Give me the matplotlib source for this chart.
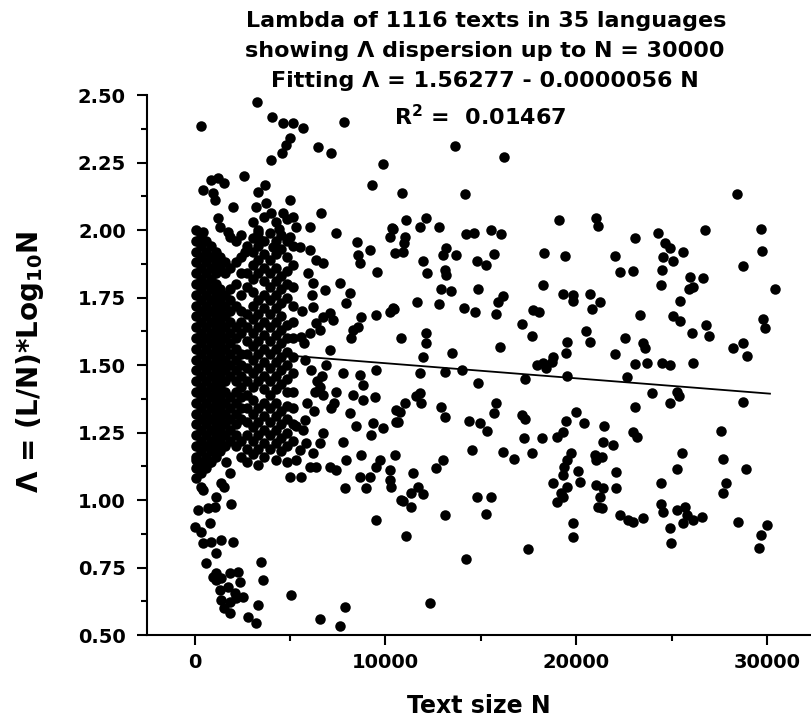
import numpy as np
import matplotlib
matplotlib.use("Agg")
import matplotlib.pyplot as plt
from matplotlib.ticker import MultipleLocator, FormatStrFormatter

plt.rcParams['font.family'] = 'DejaVu Sans'
plt.rcParams['font.weight'] = 'bold'
plt.rcParams['mathtext.default'] = 'regular'

# scattered texts: size N and lambda
text_n = [
    13670, 16220, 10890, 14180, 28400, 11100, 12150, 11800, 10330, 11010, 11000, 10900, 10490,
    12810, 19100, 21060, 21130, 14250, 14630, 15520, 16050, 23070, 24300, 26760, 29660, 29730,
    24650, 24910, 24560, 25050, 25610, 13200, 13020, 13690, 11970, 12200, 13110, 13200, 14800,
    15260, 15700, 18300, 19390, 22020, 22290, 22950, 24470, 24440, 28720, 25960, 26620, 25920,
    26130, 25430, 30410, 12940, 13460, 14860, 16170, 15900, 15780, 14680, 14110, 11680, 12800,
    10440, 18270, 19310, 19840, 19810, 20710, 21240, 20800, 17740, 18060, 17180, 17660, 23340,
    25080, 25430, 26090, 26800, 26970, 29800, 29890, 28200, 28720, 28930, 10840, 12110, 12110,
    11970, 13490, 15990, 20500, 20710, 19490, 19450, 18790, 18270, 17920, 22550, 23480, 23600,
    22020, 23070, 23720, 24470, 24910, 26130,
    11800, 13110, 13990, 14860, 17330, 19490, 18440, 18710, 22670, 23950, 25290, 25400, 24910,
    28720, 11800, 11850, 11620, 11010, 10750, 10580, 12940, 13150, 14380, 14940, 15300, 15780,
    15680, 17180, 17300, 23070, 22980, 23160, 20010, 20410, 19450, 19310, 18970, 21470, 21380,
    21940, 17270, 18230, 27570, 10500, 14540, 16170, 16740, 17660, 19750, 19490, 19350, 19310,
    19490, 19180, 18970, 19310, 18760, 20980, 21330, 21060, 20100, 20190, 22080, 22080, 21060,
    21410, 21240, 21330, 21150, 25560, 25290, 24420, 24420, 24520, 25260, 25690, 25780, 25610,
    26130, 26570, 22290, 22720, 22980, 23480, 24910, 24960, 27700, 27840, 27700, 28890, 28460,
    29980, 29660, 29590, 19840, 19840, 17490, 14250, 12320, 13110, 15260, 14800, 15560, 11100,
    11360, 11360, 10920, 11970, 11710, 11450, 12670, 13020,
    90, 260, 790, 930, 1660, 1840, 1400, 1570, 350, 440, 1140, 1050, 700, 170, 790, 1890, 50,
    350, 440, 870, 1400, 2010, 1140, 610, 3500, 3580, 5070, 7870, 7600, 6590,
    1140, 1400, 1840, 2270, 2360, 1310, 1750, 2100, 2530, 1400, 1840, 1570, 1840, 2180, 2800,
    3230, 3320, 1140, 960,
    7780, 8650, 8830, 9530, 8300, 8830, 9440, 7430, 6730, 7170, 8130, 5770, 8480, 9350, 9260,
    9880, 10580, 10660, 7780, 8740, 9700, 9530, 10230, 10230, 10310, 8650, 9180, 9000, 7870,
    9490, 10840, 4980, 5590, 5330, 6030, 6380, 7080, 7430, 7950, 5510, 5860, 6200, 6550, 6730,
    5680, 5330,
    3290, 350, 7830, 4070, 4630, 5150, 5680, 4980, 4810, 4600, 4020, 6470, 7130, 9880, 9300,
    870, 1220, 1570, 440, 960, 1050, 2590, 3670, 3320, 2010, 1220, 1310, 1750, 440, 350, 1840,
    3230, 3760, 4020, 4980, 4630, 5150, 5330, 6030, 6610, 4420, 7430, 3320, 3410, 2620, 4110,
    4980, 5510, 6030, 6380, 6730, 8510, 8570, 8650, 9180, 9560, 10400, 10230, 6200, 6820, 7600,
    8130, 7950, 6200, 6380, 6550, 7080, 7250, 6730, 8740, 9530, 10230, 10400, 8300, 8570, 8220,
    5590, 7080,
    5800, 6100, 6400, 5900, 6250, 6600, 5750, 6050, 6900, 6300, 5650, 6150, 6700, 5950, 7300,
]
text_lam = [
    2.312, 2.269, 2.138, 2.132, 2.132, 2.037, 2.046, 2.012, 2.007, 1.975, 1.952, 1.920, 1.915,
    2.012, 2.037, 2.046, 2.015, 1.985, 1.990, 2.000, 1.985, 1.971, 1.990, 2.000, 2.004, 1.922,
    1.951, 1.932, 1.901, 1.886, 1.917, 1.932, 1.907, 1.907, 1.886, 1.840, 1.852, 1.833, 1.886,
    1.870, 1.911, 1.914, 1.905, 1.905, 1.843, 1.848, 1.852, 1.796, 1.867, 1.827, 1.821, 1.781,
    1.790, 1.738, 1.780, 1.781, 1.775, 1.781, 1.756, 1.734, 1.689, 1.697, 1.710, 1.732, 1.725,
    1.707, 1.796, 1.763, 1.759, 1.738, 1.763, 1.734, 1.707, 1.704, 1.697, 1.652, 1.607, 1.685,
    1.681, 1.664, 1.620, 1.648, 1.607, 1.669, 1.636, 1.562, 1.580, 1.533, 1.599, 1.620, 1.580,
    1.531, 1.543, 1.568, 1.627, 1.586, 1.584, 1.543, 1.531, 1.506, 1.500, 1.599, 1.583, 1.562,
    1.541, 1.503, 1.506, 1.506, 1.500, 1.506,
    1.471, 1.475, 1.481, 1.434, 1.447, 1.459, 1.488, 1.512, 1.454, 1.397, 1.401, 1.385, 1.358,
    1.364, 1.397, 1.360, 1.385, 1.358, 1.327, 1.290, 1.346, 1.309, 1.293, 1.284, 1.257, 1.358,
    1.321, 1.315, 1.299, 1.346, 1.253, 1.232, 1.325, 1.286, 1.293, 1.253, 1.232, 1.273, 1.216,
    1.204, 1.228, 1.228, 1.256, 1.167, 1.185, 1.177, 1.152, 1.173, 1.175, 1.148, 1.123, 1.093,
    1.049, 1.025, 0.994, 1.012, 1.062, 1.167, 1.160, 1.148, 1.107, 1.068, 1.105, 1.043, 1.056,
    1.043, 1.012, 0.969, 0.975, 1.175, 1.114, 1.062, 0.985, 0.957, 0.963, 0.975, 0.944, 0.914,
    0.926, 0.938, 0.944, 0.926, 0.917, 0.934, 0.895, 0.840, 1.151, 1.062, 1.027, 1.115, 0.920,
    0.907, 0.870, 0.823, 0.914, 0.862, 0.817, 0.781, 0.620, 0.944, 0.948, 1.012, 1.012, 0.868,
    1.025, 0.975, 0.997, 1.022, 1.049, 1.099, 1.117, 1.148,
    1.148, 1.117, 1.142, 1.195, 1.142, 1.099, 1.062, 1.049, 1.049, 1.037, 1.010, 0.975, 0.969,
    0.963, 0.914, 0.985, 0.901, 0.883, 0.840, 0.846, 0.852, 0.846, 0.803, 0.765, 0.771, 0.704,
    0.648, 0.605, 0.533, 0.558,
    0.728, 0.710, 0.728, 0.734, 0.697, 0.667, 0.679, 0.654, 0.642, 0.630, 0.623, 0.599, 0.580,
    0.636, 0.568, 0.543, 0.611, 0.704, 0.716,
    1.469, 1.463, 1.426, 1.481, 1.389, 1.370, 1.383, 1.401, 1.389, 1.340, 1.321, 1.296, 1.273,
    1.284, 1.241, 1.265, 1.333, 1.290, 1.216, 1.167, 1.148, 1.123, 1.111, 1.074, 1.049, 1.086,
    1.086, 1.043, 1.043, 0.926, 1.000, 1.086, 1.086, 1.148, 1.123, 1.123, 1.123, 1.111, 1.148,
    1.185, 1.210, 1.173, 1.210, 1.247, 1.259, 1.273,
    2.475, 2.385, 2.401, 2.417, 2.395, 2.395, 2.377, 2.339, 2.315, 2.284, 2.259, 2.309, 2.286,
    2.244, 2.167, 2.185, 2.191, 2.173, 2.148, 2.136, 2.111, 2.200, 2.167, 2.142, 2.086, 2.043,
    2.012, 1.994, 1.994, 1.957, 1.975, 2.086, 2.099, 2.062, 2.111, 2.062, 2.049, 2.012, 2.012,
    2.062, 2.005, 1.990, 1.988, 1.963, 1.920, 1.938, 1.975, 1.938, 1.926, 1.889, 1.877, 1.957,
    1.907, 1.877, 1.926, 1.846, 2.005, 1.975, 1.802, 1.778, 1.802, 1.765, 1.728, 1.716, 1.654,
    1.630, 1.691, 1.667, 1.679, 1.679, 1.685, 1.697, 1.710, 1.630, 1.642, 1.599, 1.605, 1.556,
    1.52, 1.48, 1.44, 1.36, 1.33, 1.42, 1.58, 1.62, 1.50, 1.40, 1.70, 1.76, 1.46, 1.84, 1.36,
]

# short texts (N < 2000): dense band, one lambda list per N column
short_n = [100, 350, 600, 850, 1100, 1350, 1600, 1850]
short_lam = [
    [1.08, 1.12, 1.16, 1.20, 1.24, 1.28, 1.32, 1.36, 1.40, 1.44, 1.48, 1.52, 1.56, 1.60, 1.64,
     1.68, 1.72, 1.76, 1.80, 1.84, 1.88, 1.92, 1.96, 2.00],
    [1.10, 1.14, 1.18, 1.22, 1.26, 1.30, 1.34, 1.38, 1.42, 1.46, 1.50, 1.54, 1.58, 1.62, 1.66,
     1.70, 1.74, 1.78, 1.82, 1.86, 1.90, 1.94, 1.98],
    [1.12, 1.16, 1.20, 1.24, 1.28, 1.32, 1.36, 1.40, 1.44, 1.48, 1.52, 1.56, 1.60, 1.64, 1.68,
     1.72, 1.76, 1.80, 1.84, 1.88, 1.92, 1.96],
    [1.14, 1.18, 1.22, 1.26, 1.30, 1.34, 1.38, 1.42, 1.46, 1.50, 1.54, 1.58, 1.62, 1.66, 1.70,
     1.74, 1.78, 1.82, 1.86, 1.90, 1.94],
    [1.16, 1.20, 1.24, 1.28, 1.32, 1.36, 1.40, 1.44, 1.48, 1.52, 1.56, 1.60, 1.64, 1.68, 1.72,
     1.76, 1.80, 1.84, 1.88, 1.92],
    [1.18, 1.22, 1.26, 1.30, 1.34, 1.38, 1.42, 1.46, 1.50, 1.54, 1.58, 1.62, 1.66, 1.70, 1.74,
     1.78, 1.86, 1.90],
    [1.20, 1.24, 1.28, 1.32, 1.36, 1.40, 1.44, 1.48, 1.52, 1.56, 1.60, 1.64, 1.68, 1.72, 1.76,
     1.84, 1.88],
    [1.22, 1.26, 1.30, 1.34, 1.38, 1.46, 1.50, 1.54, 1.58, 1.62, 1.66, 1.70, 1.74, 1.78, 1.86],
]

# mid-length texts (2000 < N < 5500)
mid_n = [2150, 2450, 2750, 3050, 3350, 3650, 3950, 4250, 4550, 4850, 5150]
mid_lam = [
    [1.20, 1.24, 1.28, 1.32, 1.36, 1.40, 1.44, 1.48, 1.52, 1.56, 1.60, 1.64, 1.72, 1.80, 1.88,
     1.96],
    [1.16, 1.22, 1.30, 1.34, 1.38, 1.42, 1.46, 1.50, 1.54, 1.62, 1.66, 1.70, 1.76, 1.84, 1.90,
     1.98],
    [1.14, 1.19, 1.24, 1.29, 1.34, 1.39, 1.44, 1.49, 1.54, 1.59, 1.64, 1.69, 1.79, 1.84, 1.94],
    [1.17, 1.22, 1.27, 1.32, 1.37, 1.42, 1.47, 1.52, 1.57, 1.62, 1.67, 1.72, 1.77, 1.82, 1.87,
     1.92, 1.97, 2.03],
    [1.13, 1.19, 1.24, 1.29, 1.34, 1.44, 1.49, 1.54, 1.59, 1.64, 1.69, 1.74, 1.84, 1.89, 1.94,
     2.00],
    [1.16, 1.21, 1.26, 1.31, 1.36, 1.41, 1.46, 1.51, 1.56, 1.61, 1.66, 1.71, 1.76, 1.81, 1.86,
     1.91, 1.96, 2.05],
    [1.19, 1.24, 1.29, 1.34, 1.39, 1.44, 1.49, 1.54, 1.59, 1.64, 1.69, 1.74, 1.79, 1.84, 1.89,
     1.99],
    [1.15, 1.21, 1.26, 1.31, 1.36, 1.41, 1.46, 1.51, 1.56, 1.61, 1.66, 1.71, 1.76, 1.81, 1.86,
     1.91, 1.96, 2.03],
    [1.18, 1.23, 1.28, 1.33, 1.43, 1.48, 1.53, 1.58, 1.63, 1.68, 1.73, 1.78, 1.83, 1.93, 1.98],
    [1.14, 1.20, 1.25, 1.30, 1.35, 1.40, 1.45, 1.50, 1.55, 1.60, 1.65, 1.75, 1.80, 1.85, 1.90,
     1.96, 2.04],
    [1.22, 1.28, 1.34, 1.40, 1.47, 1.53, 1.60, 1.66, 1.72, 1.79, 1.87, 1.94],
]

# linear fit
fit_a = 1.56277
fit_b = -0.0000056
fit_range = [5000, 30150]

all_n = list(text_n)
all_lam = list(text_lam)
for cols, lams in ((short_n, short_lam), (mid_n, mid_lam)):
    for n, col in zip(cols, lams):
        all_n += [n] * len(col)
        all_lam += col

fig = plt.figure(figsize=(8.11, 7.27), dpi=100)
ax = fig.add_axes([0.181, 0.1265, 0.819, 0.7428])

ax.scatter(all_n, all_lam, s=57, c='black', linewidths=0)
fx = np.array(fit_range, dtype=float)
ax.plot(fx, fit_a + fit_b * fx, color='black', lw=1.3)

ax.set_xlim(-2500, 32300)
ax.set_ylim(0.5, 2.5)
ax.xaxis.set_major_locator(MultipleLocator(10000))
ax.xaxis.set_minor_locator(MultipleLocator(5000))
ax.yaxis.set_major_locator(MultipleLocator(0.25))
ax.yaxis.set_minor_locator(MultipleLocator(0.125))
ax.yaxis.set_major_formatter(FormatStrFormatter('%.2f'))

for side in ['top', 'right']:
    ax.spines[side].set_visible(False)
for side in ['left', 'bottom']:
    ax.spines[side].set_linewidth(1.5)
ax.tick_params(which='major', length=7, width=1.5, labelsize=14)
ax.tick_params(which='minor', length=4, width=1.5)
ax.tick_params(axis='y', which='major', pad=8)
ax.tick_params(axis='x', which='major', pad=6)

ax.set_xlabel('Text size N', fontsize=17, fontweight='bold', labelpad=16)
fig.text(30 / 811, 1 - 362 / 727, r'Λ = (L/N)*Log$_{10}$N', rotation=90,
         ha='center', va='center', fontsize=20, fontweight='bold')

fig.text(0.600, 1 - 21 / 727, 'Lambda of 1116 texts in 35 languages',
         ha='center', va='center', fontsize=16, fontweight='bold')
fig.text(0.598, 1 - 51 / 727, 'showing Λ dispersion up to N = 30000',
         ha='center', va='center', fontsize=16, fontweight='bold')
fig.text(0.598, 1 - 81 / 727, 'Fitting Λ = 1.56277 - 0.0000056 N',
         ha='center', va='center', fontsize=16, fontweight='bold')
fig.text(0.592, 1 - 117 / 727, r'R$^2$ =  0.01467',
         ha='center', va='center', fontsize=16, fontweight='bold')

fig.savefig('out.png', dpi=100)
